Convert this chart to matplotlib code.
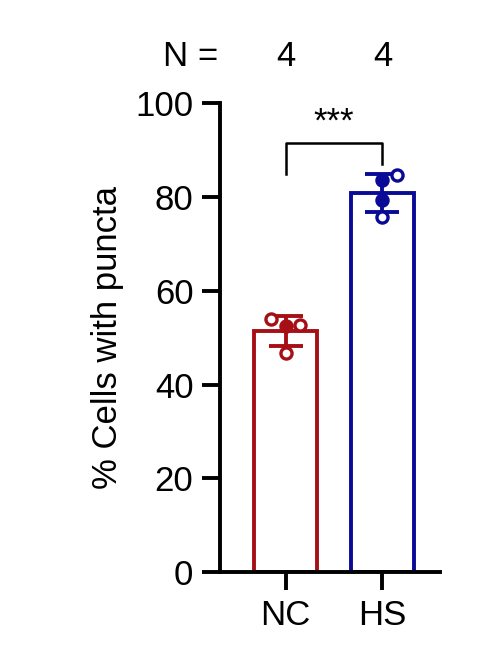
import matplotlib.pyplot as plt
import numpy as np

groups = ['NC', 'HS']
colors = ['#a50f15', '#0a0a96']
points = [[53.9, 52.5, 52.7, 46.7], [84.6, 83.6, 79.3, 75.7]]
filled = [[False, True, False, False], [False, True, True, False]]
n_counts = ['4', '4']

plt.rcParams['font.family'] = ['Liberation Sans', 'DejaVu Sans']
fig = plt.figure(figsize=(4.82, 6.57), dpi=100)
ax = fig.add_axes([0.456, 0.129, 0.456, 0.714])
lw = 2.8
fs = 25

for i, (g, c, p, f) in enumerate(zip(groups, colors, points, filled)):
    p = np.array(p)
    m, sd = p.mean(), p.std(ddof=1)
    ax.bar(i, m, width=0.65, facecolor='white', edgecolor=c, linewidth=lw, zorder=2)
    ax.errorbar(i, m, yerr=sd, color=c, capsize=12, capthick=lw, elinewidth=lw, zorder=3)
    xs = [i - 0.15, i, i + 0.15, i] if i == 0 else [i + 0.15, i, i, i]
    for x, y, fl in zip(xs, p, f):
        ax.plot(x, y, 'o', ms=8, mec=c, mfc=c if fl else 'white', mew=2.4, zorder=4)

ax.set_xlim(-0.68, 1.59)
ax.set_ylim(0, 100)
ax.set_yticks(range(0, 101, 20))
ax.set_xticks([0, 1])
ax.set_xticklabels(groups)
for s in ['top', 'right']:
    ax.spines[s].set_visible(False)
for s in ['left', 'bottom']:
    ax.spines[s].set_linewidth(lw)
ax.tick_params(width=lw, length=13, labelsize=fs, pad=6)
ax.set_ylabel('% Cells with puncta', fontsize=fs, labelpad=8)

# significance bracket
ax.plot([0, 0, 1, 1], [85, 91.5, 91.5, 87], color='black', lw=1.8, clip_on=False)
ax.text(0.5, 92.5, '***', ha='center', va='bottom', fontsize=fs)

ax.text(-0.98, 106.5, 'N =', ha='center', va='bottom', fontsize=fs, clip_on=False)
for i, n in enumerate(n_counts):
    ax.text(i, 106.5, n, ha='center', va='bottom', fontsize=fs, clip_on=False)

fig.savefig('out.png')
